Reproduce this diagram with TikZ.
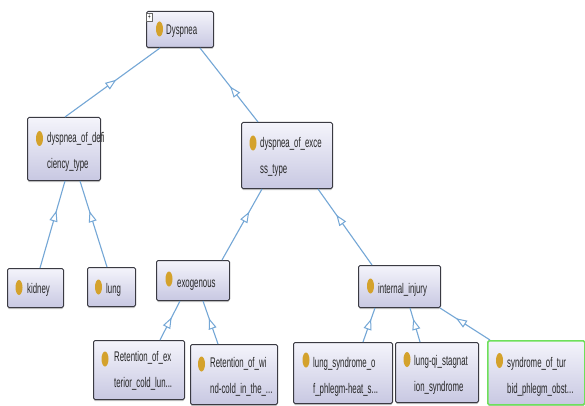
\documentclass[tikz,border=0pt]{standalone}
\usepackage{fontspec}
\setmainfont{Liberation Sans}[FakeStretch=0.56]
\usetikzlibrary{shapes.geometric,arrows.meta,decorations.markings,shadows,calc}
\definecolor{edgeblue}{HTML}{74A7D6}
\definecolor{gold}{HTML}{D4A22C}
\definecolor{boxtop}{HTML}{F4F4FB}
\definecolor{boxbot}{HTML}{C8C8E2}
\definecolor{boxline}{HTML}{3A3A42}
\definecolor{selgreen}{HTML}{6EE05A}
\begin{document}
\begin{tikzpicture}[x=1pt,y=-1pt,
  cls/.style={rectangle, rounded corners=1.5pt, draw=boxline, line width=1pt,
    top color=boxtop, bottom color=boxbot, inner sep=0pt, anchor=north west,
    drop shadow={shadow xshift=0pt, shadow yshift=-1.5pt, opacity=0.4}},
  selcls/.style={cls, draw=selgreen, line width=1.6pt},
  icon/.style={ellipse, fill=gold, draw=none, minimum width=7pt, minimum height=15pt, inner sep=0pt},
  lbl/.style={anchor=base west, inner sep=0pt, align=left, text=black!85,
    font=\fontsize{14}{26}\selectfont},
  link/.style={draw=edgeblue, line width=1.1pt,
    postaction={decorate, decoration={markings, mark=at position #1 with
      {\arrow{Triangle[length=11pt,width=8pt,fill=white,line width=1pt]}}}}},
  link/.default=0.6
]
\fill[white] (0,0) rectangle (585,406);
\useasboundingbox (0,0) rectangle (585,406);

% boxes
\node[cls, minimum width=67pt, minimum height=36pt] (dys) at (146,11) {};
\node[cls, minimum width=73pt, minimum height=63pt] (def) at (27,117) {};
\node[cls, minimum width=91pt, minimum height=66pt] (exc) at (241,122) {};
\node[cls, minimum width=56pt, minimum height=39pt] (kid) at (7,268) {};
\node[cls, minimum width=48pt, minimum height=39pt] (lung) at (87,267) {};
\node[cls, minimum width=73pt, minimum height=40pt] (exo) at (156,260) {};
\node[cls, minimum width=82pt, minimum height=42pt] (int) at (358,265) {};
\node[cls, minimum width=91pt, minimum height=59pt] (rex) at (93,340) {};
\node[cls, minimum width=87pt, minimum height=60pt] (rwi) at (190,344) {};
\node[cls, minimum width=99pt, minimum height=61pt] (lsy) at (293,342) {};
\node[cls, minimum width=83pt, minimum height=60pt] (lqi) at (395,342) {};
\node[selcls, minimum width=97pt, minimum height=64pt] (tur) at (487,340) {};

% icons
\node[icon] (dys-i) at (159.5,29) {};
\node[icon] (def-i) at (39.5,138.5) {};
\node[icon] (exc-i) at (253,143) {};
\node[icon] (kid-i) at (19,287.5) {};
\node[icon] (lung-i) at (98.5,287) {};
\node[icon] (exo-i) at (169,279) {};
\node[icon] (int-i) at (370.5,286) {};
\node[icon] (rex-i) at (105,359) {};
\node[icon] (rwi-i) at (201.5,364) {};
\node[icon] (lsy-i) at (306,360) {};
\node[icon] (lqi-i) at (407,359.5) {};
\node[icon] (tur-i) at (499.5,360.5) {};

% expand marker
\node[draw=black!60, fill=white, inner sep=0pt, minimum width=6pt, minimum height=8pt,
  font=\fontsize{8}{8}\selectfont] (dys-plus) at (149.5,17.5) {+};

% labels (base anchor = baseline of the last line)
\node[lbl] (dys-t) at (166,35) {Dyspnea};
\node[lbl] (def-t) at (47,168) {dyspnea\_of\_defi\\ciency\_type};
\node[lbl] (exc-t) at (260,173) {dyspnea\_of\_exce\\ss\_type};
\node[lbl] (kid-t) at (27,293) {kidney};
\node[lbl] (lung-t) at (106,293) {lung};
\node[lbl] (exo-t) at (177,287) {exogenous};
\node[lbl] (int-t) at (378,293) {internal\_injury};
\node[lbl] (rex-t) at (114,387) {Retention\_of\_ex\\terior\_cold\_lun...};
\node[lbl] (rwi-t) at (210,393) {Retention\_of\_wi\\nd-cold\_in\_the\_...};
\node[lbl] (lsy-t) at (313,393) {lung\_syndrome\_o\\f\_phlegm-heat\_s...};
\node[lbl] (lqi-t) at (414,391) {lung-qi\_stagnat\\ion\_syndrome};
\node[lbl] (tur-t) at (507,393) {syndrome\_of\_tur\\bid\_phlegm\_obst...};

% connectors (child -> parent, open triangle pointing to the parent)
\draw[link=0.54] ([xshift=38pt]def.north west) -- ([xshift=14pt]dys.south west);
\draw[link=0.48] ([xshift=17pt]exc.north west) -- ([xshift=54pt]dys.south west);
\draw[link=0.66] ([xshift=33pt]kid.north west) -- ([xshift=38pt]def.south west);
\draw[link=0.65] ([xshift=20pt]lung.north west) -- ([xshift=53pt]def.south west);
\draw[link=0.68] ([xshift=66pt]exo.north west) -- ([xshift=21pt]exc.south west);
\draw[link=0.66] ([xshift=14pt]int.north west) -- ([xshift=77pt]exc.south west);
\draw[link=0.58] ([xshift=67pt]rex.north west) -- ([xshift=24pt]exo.south west);
\draw[link=0.6] ([xshift=28pt]rwi.north west) -- ([xshift=47pt]exo.south west);
\draw[link=0.68] ([xshift=70pt]lsy.north west) -- ([xshift=17pt]int.south west);
\draw[link=0.68] ([xshift=25pt]lqi.north west) -- ([xshift=52pt]int.south west);
\draw[link=0.68] ([xshift=3pt]tur.north west) -- ([xshift=82pt]int.south west);
\end{tikzpicture}
\end{document}
